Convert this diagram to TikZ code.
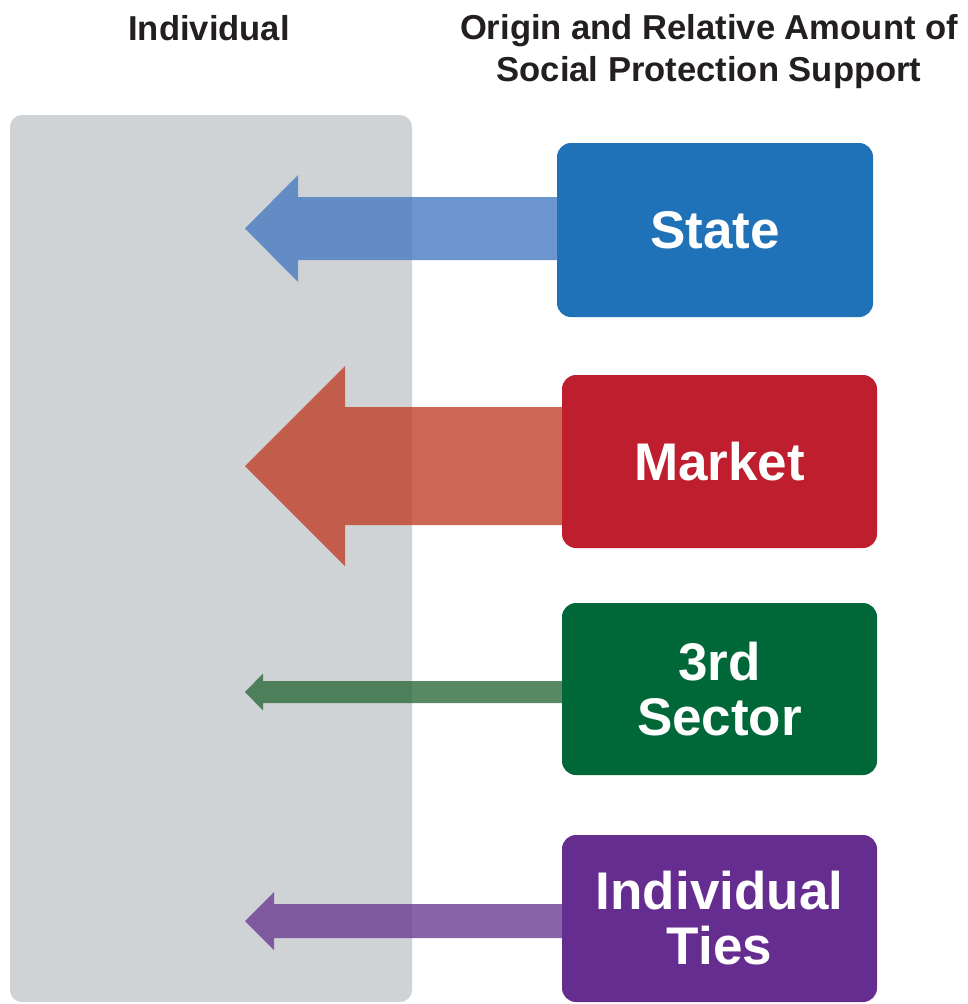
\documentclass[tikz,border=0pt]{standalone}
\usepackage{fontspec}
\setmainfont{Liberation Sans}
\usetikzlibrary{calc}
\pgfdeclarelayer{bglayer}
\pgfdeclarelayer{arrlayer}
\pgfsetlayers{bglayer,arrlayer,main}
\definecolor{greybg}{RGB}{208,211,214}
\definecolor{stateC}{RGB}{31,114,184}
\definecolor{marketC}{RGB}{190,30,45}
\definecolor{sectorC}{RGB}{0,104,56}
\definecolor{tiesC}{RGB}{102,45,145}
\definecolor{stateA}{RGB}{69,120,192}
\definecolor{marketA}{RGB}{191,59,37}
\definecolor{sectorA}{RGB}{41,105,56}
\definecolor{tiesA}{RGB}{105,56,146}
\definecolor{titleC}{RGB}{35,31,32}
\newcommand\blockarrow[6]{%
  \path let \p1=(#2), \p2=(#1.west) in
    [fill=#6, fill opacity=0.78]
    (\x2+12pt,\y1+#3) -- (\x1+#5,\y1+#3) -- (\x1+#5,\y1+#4) -- (\x1,\y1)
    -- (\x1+#5,\y1-#4) -- (\x1+#5,\y1-#3) -- (\x2+12pt,\y1-#3) -- cycle;}
\begin{document}
\begin{tikzpicture}[x=1pt,y=-1pt,
  title/.style={font=\fontsize{34.6}{42}\selectfont\bfseries, text=titleC, align=center, inner sep=0pt},
  srcbox/.style={rectangle, rounded corners=14pt, fill=#1, text=white, inner sep=0pt,
    minimum width=315pt, align=center, font=\fontsize{53}{55}\selectfont\bfseries}]
\useasboundingbox (0,0) rectangle (967,1004);
\begin{pgfonlayer}{bglayer}
\fill[white] (0,0) rectangle (967,1004);
\node[rectangle, rounded corners=12pt, fill=greybg, minimum width=402pt, minimum height=887pt, inner sep=0pt] (indiv) at (211,558.5) {};
\end{pgfonlayer}
% titles
\node[title, anchor=base] (tindiv) at (209,40) {Individual};
\node[title] (torigin) at (709,52) {Origin and Relative Amount of\\Social Protection Support};
% arrow tips inside the individual panel
\coordinate (tipS) at (245,228.5);
\coordinate (tipM) at (245,466);
\coordinate (tipT) at (245,692);
\coordinate (tipI) at (245,921);
% source boxes
\node[srcbox=stateC, minimum height=174pt, minimum width=316pt] (state) at (715,230) {State};
\node[srcbox=marketC, minimum height=173pt] (market) at (719.5,461.5) {Market};
\node[srcbox=sectorC, minimum height=172pt] (sector) at (719.5,689) {3rd\\Sector};
\node[srcbox=tiesC, minimum height=167pt] (ties) at (719.5,918.5) {Individual\\Ties};
% arrows, behind the boxes
\begin{pgfonlayer}{arrlayer}
\blockarrow{state}{tipS}{31.5pt}{53.5pt}{53pt}{stateA}
\blockarrow{market}{tipM}{59pt}{100pt}{100pt}{marketA}
\blockarrow{sector}{tipT}{11pt}{18.5pt}{18pt}{sectorA}
\blockarrow{ties}{tipI}{17pt}{29pt}{29pt}{tiesA}
\end{pgfonlayer}
\end{tikzpicture}
\end{document}
